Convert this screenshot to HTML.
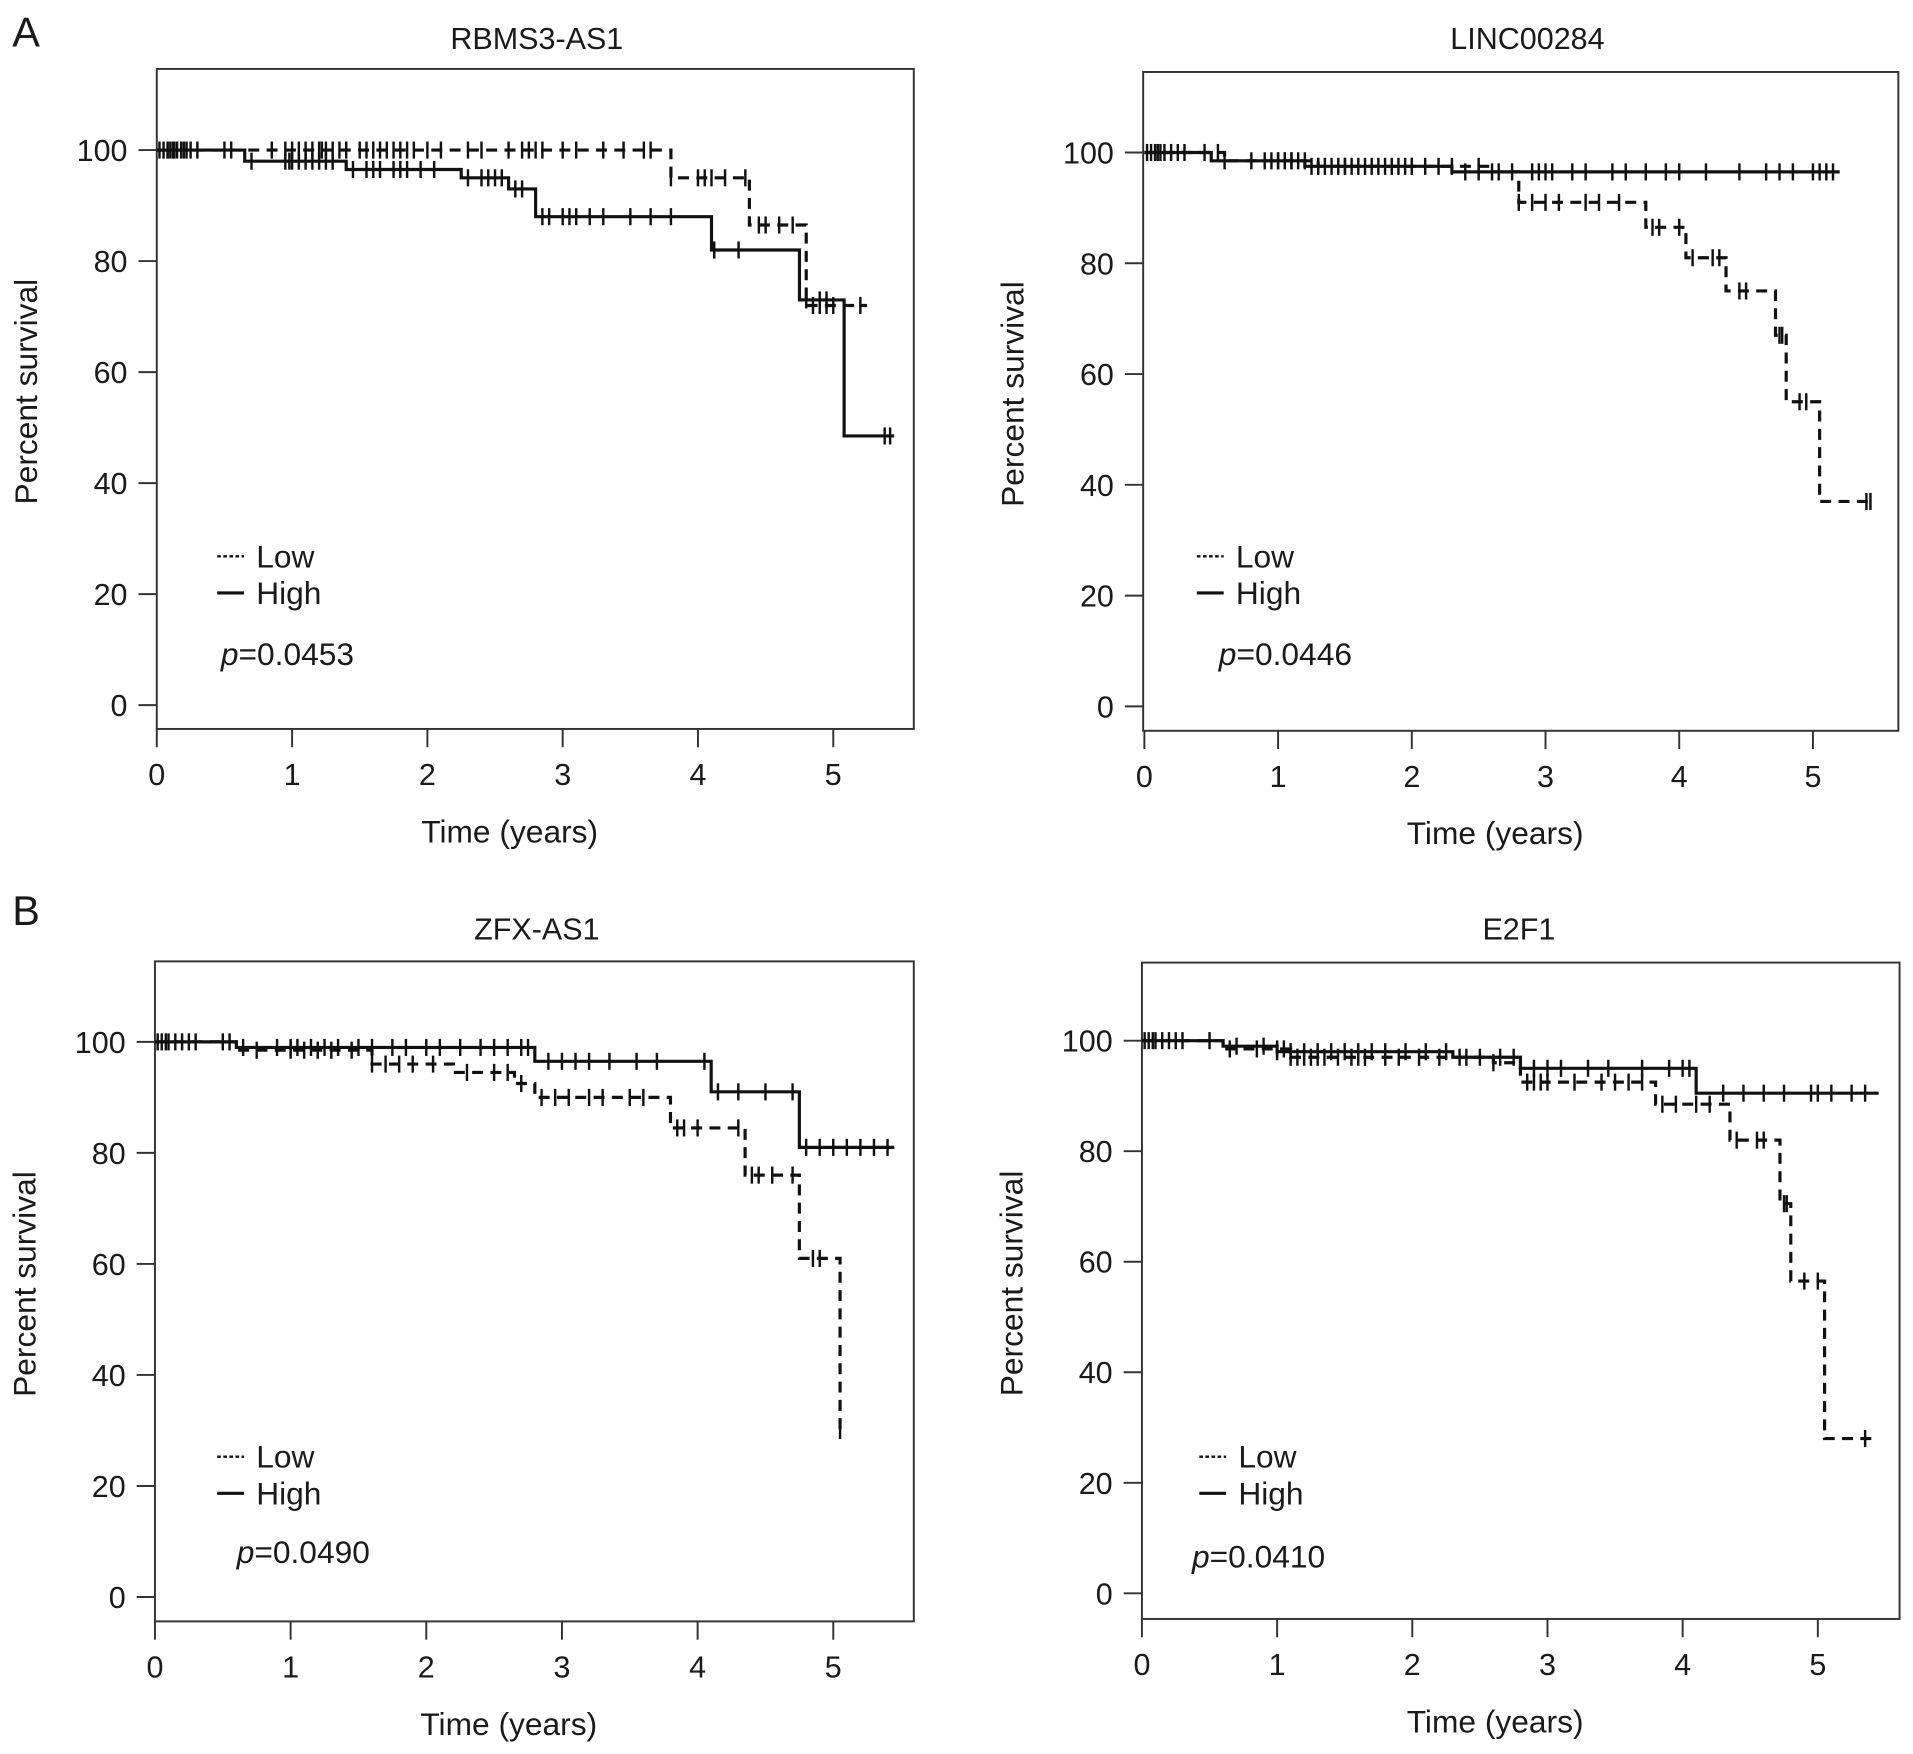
<!DOCTYPE html>
<html><head><meta charset="utf-8"><style>
html,body{margin:0;padding:0;background:#fff}
svg{display:block}
text{font-family:"Liberation Sans",Arial,sans-serif;fill:#1a1a1a}
</style></head><body>
<svg id="fig" width="1913" height="1754" viewBox="0 0 1568 1437.7" xmlns="http://www.w3.org/2000/svg">
<text x="10" y="38" font-size="34">A</text>
<text x="10" y="758" font-size="34">B</text>
</svg>
<script>
// ---- data: RBMS3-AS1 ----
const rbLowT=[0,3.8,4.38,4.8];
const rbLowS=[100,95,86.5,72];
const rbLowEnd=5.25;
const rbLowC=[0.05,0.08,0.1,0.13,0.15,0.2,0.22,0.3,0.5,0.85,0.95,1.0,1.05,1.1,1.15,1.2,1.22,1.25,1.3,1.35,1.4,1.5,1.55,1.6,1.65,1.7,1.75,1.8,1.85,1.9,2.0,2.1,2.3,2.4,2.6,2.7,2.75,2.8,2.85,3.0,3.1,3.3,3.45,3.6,3.65,3.8,4.0,4.05,4.1,4.2,4.35,4.45,4.5,4.6,4.7,4.85,4.9,4.95,5.0,5.2];
const rbHighT=[0,0.65,1.4,2.25,2.6,2.8,4.1,4.75,5.08];
const rbHighS=[100,98,96.5,95,93,88,82,73,48.5];
const rbHighEnd=5.45;
const rbHighC=[0.02,0.08,0.12,0.18,0.25,0.55,0.7,0.95,0.98,1.0,1.05,1.1,1.15,1.2,1.25,1.3,1.45,1.55,1.6,1.65,1.75,1.8,1.85,1.95,2.05,2.3,2.4,2.45,2.5,2.55,2.65,2.7,2.85,2.9,3.0,3.05,3.1,3.2,3.3,3.5,3.65,3.8,4.12,4.3,4.8,4.9,4.95,5.38,5.42];
// ---- data: LINC00284 ----
const liLowT=[0,0.6,1.3,2.6,2.8,3.75,4.05,4.35,4.72,4.8,5.05];
const liLowS=[100,98.5,97.5,96.5,91,86.5,81,75,67,55,37];
const liLowEnd=5.45;
const liLowC=[0.05,0.1,0.15,0.2,0.3,0.55,0.8,1.0,1.05,1.1,1.2,1.3,1.35,1.45,1.5,1.6,1.7,1.8,1.9,2.0,2.1,2.3,2.5,2.65,2.8,2.9,3.0,3.1,3.3,3.4,3.55,3.8,3.85,4.0,4.1,4.25,4.3,4.45,4.5,4.75,4.77,4.9,4.95,5.4,5.43];
const liHighT=[0,0.5,1.2,2.3];
const liHighS=[100,98.5,97.5,96.5];
const liHighEnd=5.2;
const liHighC=[0.02,0.08,0.12,0.25,0.45,0.6,0.9,0.95,1.0,1.05,1.1,1.15,1.25,1.3,1.4,1.5,1.55,1.65,1.75,1.85,1.95,2.0,2.2,2.4,2.5,2.6,2.75,2.9,2.95,3.0,3.05,3.2,3.3,3.5,3.6,3.75,3.9,4.0,4.2,4.45,4.65,4.75,4.85,5.0,5.05,5.1,5.15];
// ---- data: ZFX-AS1 ----
const zfLowT=[0,0.6,1.6,2.2,2.65,2.8,3.8,4.35,4.75,5.05];
const zfLowS=[100,98.5,96,94.5,92.5,90,84.5,76,61,30];
const zfLowEnd=5.05;
const zfLowC=[0.05,0.1,0.2,0.3,0.55,0.75,1.0,1.1,1.2,1.3,1.45,1.6,1.7,1.8,1.9,2.05,2.3,2.5,2.6,2.7,2.85,2.95,3.05,3.2,3.3,3.5,3.6,3.85,3.9,4.0,4.3,4.4,4.45,4.55,4.7,4.85,4.9,5.05];
const zfHighT=[0,0.6,2.8,4.1,4.75];
const zfHighS=[100,99,96.5,91,81];
const zfHighEnd=5.45;
const zfHighC=[0.02,0.08,0.15,0.25,0.5,0.65,0.9,1.0,1.05,1.15,1.25,1.35,1.5,1.6,1.75,1.85,2.0,2.1,2.25,2.4,2.5,2.6,2.7,2.75,2.9,3.0,3.1,3.2,3.35,3.55,3.7,4.05,4.15,4.3,4.5,4.7,4.8,4.9,5.0,5.1,5.2,5.3,5.4];
// ---- data: E2F1 ----
const e2LowT=[0,0.6,1.1,2.6,2.8,3.8,4.35,4.72,4.8,5.05];
const e2LowS=[100,98.5,97,96,92.5,88.5,82,70.5,56.5,28];
const e2LowEnd=5.4;
const e2LowC=[0.05,0.1,0.2,0.3,0.65,0.85,1.0,1.05,1.1,1.15,1.2,1.25,1.3,1.35,1.45,1.55,1.6,1.65,1.8,1.9,2.05,2.2,2.4,2.6,2.85,2.9,2.95,3.0,3.2,3.4,3.5,3.6,3.7,3.85,3.95,4.1,4.2,4.4,4.55,4.6,4.75,4.77,4.9,5.0,5.35];
const e2HighT=[0,0.6,1.0,2.3,2.8,4.1];
const e2HighS=[100,99,98,97,95,90.5];
const e2HighEnd=5.45;
const e2HighC=[0.02,0.08,0.15,0.25,0.5,0.7,0.9,1.0,1.1,1.2,1.3,1.4,1.5,1.6,1.7,1.8,1.95,2.1,2.25,2.35,2.5,2.65,2.75,2.9,3.0,3.1,3.3,3.45,3.7,3.9,4.0,4.05,4.3,4.45,4.6,4.75,4.95,5.0,5.1,5.25,5.35];

const xTicks=[0,1,2,3,4,5];
const yTicks=[0,20,40,60,80,100];

const panels=[
 {id:'rbms3-as1',title:'RBMS3-AS1',p:'0.0453',L:128.5,R:749,T:56.5,B:597.5,x0:128.5,x5:683,y100:123,y0:578,tx:440,ty:40,leg:[178,456],pp:[181,545],
  low:[rbLowT,rbLowS,rbLowEnd,rbLowC],high:[rbHighT,rbHighS,rbHighEnd,rbHighC]},
 {id:'linc00284',title:'LINC00284',p:'0.0446',L:937,R:1556,T:59,B:599,x0:938,x5:1486,y100:125,y0:579,tx:1252,ty:40,leg:[981,456],pp:[999,545],
  low:[liLowT,liLowS,liLowEnd,liLowC],high:[liHighT,liHighS,liHighEnd,liHighC]},
 {id:'zfx-as1',title:'ZFX-AS1',p:'0.0490',L:127,R:749,T:788,B:1329,x0:127,x5:683,y100:854,y0:1309,tx:440,ty:770,leg:[178,1194],pp:[194,1281],
  low:[zfLowT,zfLowS,zfLowEnd,zfLowC],high:[zfHighT,zfHighS,zfHighEnd,zfHighC]},
 {id:'e2f1',title:'E2F1',p:'0.0410',L:936,R:1557,T:789,B:1327,x0:936,x5:1490,y100:853,y0:1306,tx:1245,ty:770,leg:[983,1194],pp:[977,1285],
  low:[e2LowT,e2LowS,e2LowEnd,e2LowC],high:[e2HighT,e2HighS,e2HighEnd,e2HighC]}
];
const NS='http://www.w3.org/2000/svg';
const svg=document.getElementById('fig');
function mk(tag,attrs,parent,txt){const e=document.createElementNS(NS,tag);for(const k in attrs)e.setAttribute(k,attrs[k]);if(txt!==undefined)e.textContent=txt;parent.appendChild(e);return e;}
function surv(T,S,t){let s=S[0];for(let i=0;i<T.length;i++){if(T[i]<=t)s=S[i];}return s;}

panels.forEach(P=>{
 const sx=t=>P.x0+(P.x5-P.x0)*t/5;
 const sy=v=>P.y0+(P.y100-P.y0)*v/100;
 const g=mk('g',{},svg);
 
 
 const box=mk('rect',{x:P.L,y:P.T,width:P.R-P.L,height:P.B-P.T,fill:'none',stroke:'#333','stroke-width':1.6},g);
 
 
 const tt=mk('text',{x:P.tx,y:P.ty,'font-size':25,'text-anchor':'middle'},g,P.title);
 
 
 xTicks.forEach(v=>{
  const x=sx(v);
  const tk=mk('line',{x1:x,x2:x,y1:P.B,y2:P.B+15,stroke:'#333','stroke-width':1.6},g);
  
  
  const tl=mk('text',{x:x,y:P.B+46,'font-size':25,'text-anchor':'middle'},g,String(v));
  
  
 });
 yTicks.forEach(v=>{
  const y=sy(v);
  const tk=mk('line',{x1:P.L-15,x2:P.L,y1:y,y2:y,stroke:'#333','stroke-width':1.6},g);
  
  
  const tl=mk('text',{x:P.L-24,y:y+9,'font-size':25,'text-anchor':'end'},g,String(v));
  
  
 });
 const xt=mk('text',{x:(P.L+P.R)/2-21,y:P.B+93,'font-size':26,'text-anchor':'middle'},g,'Time (years)');
 
 
 const yc=(P.T+P.B)/2-6, yx=P.L-98;
 const yt=mk('text',{x:yx,y:yc,'font-size':26,'text-anchor':'middle',transform:`rotate(-90 ${yx} ${yc})`},g,'Percent survival');
 
 
 [['low',P.low,'9 6'],['high',P.high,'none']].forEach(([nm,d,dash])=>{
  const [T,S,end,C]=d;
  let pts=`M${sx(T[0])},${sy(S[0])}`;
  for(let i=1;i<T.length;i++){pts+=` H${sx(T[i])} V${sy(S[i])}`;}
  pts+=` H${sx(end)}`;
  const path=mk('path',{d:pts,fill:'none',stroke:'#111','stroke-width':2.6,'stroke-dasharray':dash},g);
  
  
  C.forEach(t=>{
   const x=sx(t),y=sy(surv(T,S,t));
   const c=mk('line',{x1:x,x2:x,y1:y-7,y2:y+7,stroke:'#111','stroke-width':2},g);
   
   
  });
 });
 const [lx,ly]=P.leg;
 const l1=mk('line',{x1:lx,x2:lx+22,y1:ly,y2:ly,stroke:'#111','stroke-width':2,'stroke-dasharray':'3 2'},g);
 
 
 const t1=mk('text',{x:lx+32,y:ly+9,'font-size':26},g,'Low');
 
 
 const l2=mk('line',{x1:lx,x2:lx+22,y1:ly+30,y2:ly+30,stroke:'#111','stroke-width':2.6},g);
 
 
 const t2=mk('text',{x:lx+32,y:ly+39,'font-size':26},g,'High');
 
 
 const pv=mk('text',{x:P.pp[0],y:P.pp[1],'font-size':26},g);
 
 
 mk('tspan',{'font-style':'italic'},pv,'p');
 mk('tspan',{},pv,'='+P.p);
});
</script>
</body></html>
